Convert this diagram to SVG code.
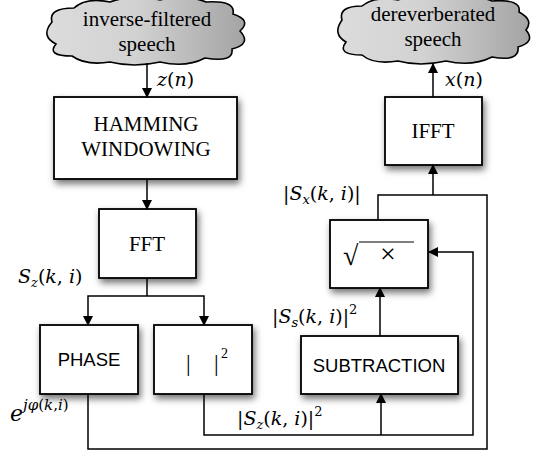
<svg xmlns="http://www.w3.org/2000/svg" width="537" height="457" viewBox="0 0 537 457">
<defs>
<linearGradient id="cg" x1="0" y1="0" x2="1" y2="0">
<stop offset="0" stop-color="#dcdcdc"/>
<stop offset="0.45" stop-color="#d2d2d2"/>
<stop offset="1" stop-color="#a4a4a4"/>
</linearGradient>
<filter id="sh" x="-20%" y="-20%" width="150%" height="160%">
<feDropShadow dx="2" dy="4" stdDeviation="3.5" flood-color="#000" flood-opacity="0.55"/>
</filter>
<marker id="ar" markerWidth="10" markerHeight="12" refX="9" refY="5" orient="auto" markerUnits="userSpaceOnUse" viewBox="0 0 10 10">
<path d="M0,0 L10,5 L0,10 Z" fill="#000"/>
</marker>
</defs>
<style>
.box{fill:#fff;stroke:#000;stroke-width:1.8;filter:url(#sh)}
.cloud{fill:url(#cg);stroke:#000;stroke-width:1.6}
.serif{font-family:"Liberation Serif","Times New Roman",serif;font-size:21px;fill:#000}
.sans{font-family:"Liberation Sans",Arial,sans-serif;font-size:18.5px;fill:#000}
.m{font-family:"DejaVu Serif","Liberation Serif",serif;font-size:19px;fill:#000}
.i{font-style:italic}
.sub{font-size:13px}
.c{fill:none;stroke:#000;stroke-width:1.5}
.ca{fill:none;stroke:#000;stroke-width:1.5;marker-end:url(#ar)}
</style>

<g id="cloud-input">
<path class="cloud" d="M52,22 Q48,8 74,8 Q86,-3 110,2 Q132,-6 160,0 Q186,-6 206,2 Q236,0 233,14 Q252,20 240,31 Q252,44 232,49 Q234,63 205,58 Q186,68 160,62 Q134,68 110,62 Q86,66 72,56 Q46,56 56,44 Q40,36 52,22 Z"/>
<text class="serif" x="147" y="26" text-anchor="middle">inverse-filtered</text>
<text class="serif" x="147" y="51" text-anchor="middle">speech</text>
</g>

<g id="cloud-output">
<path class="cloud" d="M342,20 Q338,6 362,6 Q374,-4 398,0 Q420,-7 446,-1 Q472,-7 492,1 Q522,-1 519,12 Q534,20 526,30 Q536,42 518,47 Q520,62 492,57 Q472,67 446,61 Q420,67 398,61 Q374,65 362,55 Q336,55 346,42 Q332,34 342,20 Z"/>
<text class="serif" x="433" y="21" text-anchor="middle">dereverberated</text>
<text class="serif" x="433" y="46" text-anchor="middle">speech</text>
</g>

<g id="hamming">
<rect class="box" x="54" y="97" width="183" height="82"/>
<text class="serif" x="146" y="131" text-anchor="middle">HAMMING</text>
<text class="serif" x="146" y="156" text-anchor="middle">WINDOWING</text>
</g>

<g id="fft">
<rect class="box" x="99" y="209" width="97" height="69"/>
<text class="serif" x="147" y="251" text-anchor="middle">FFT</text>
</g>

<g id="phase">
<rect class="box" x="40" y="325" width="98" height="69"/>
<text class="sans" x="89" y="366" text-anchor="middle">PHASE</text>
</g>

<g id="magsq">
<rect class="box" x="154" y="325" width="98" height="69"/>
<text class="serif" x="186" y="371" style="font-size:23px">|</text>
<text class="serif" x="214" y="371" style="font-size:23px">|</text>
<text class="serif" x="221" y="358" style="font-size:14px">2</text>
</g>

<g id="subtraction">
<rect class="box" x="301" y="336" width="157" height="58"/>
<text class="sans" x="379" y="372" text-anchor="middle">SUBTRACTION</text>
</g>

<g id="sqrt">
<rect class="box" x="330" y="220" width="98" height="68"/>
<text class="serif" x="343" y="265" style="font-size:28px">√</text>
<line x1="359" y1="242" x2="414" y2="242" stroke="#000" stroke-width="1.2"/>
<text class="serif" x="388" y="263" text-anchor="middle" style="font-size:28px">×</text>
</g>

<g id="ifft">
<rect class="box" x="385" y="97" width="97" height="68"/>
<text class="serif" x="433" y="138" text-anchor="middle">IFFT</text>
</g>

<g id="connectors">
<path class="ca" d="M147,63 V97"/>
<path class="ca" d="M147,179 V209"/>
<path class="c" d="M147,278 V296"/>
<path class="ca" d="M147,296 H88 V325"/>
<path class="ca" d="M147,296 H204 V325"/>
<path class="c" d="M88,394 V449 H487 V195 H378 V220"/>
<path class="ca" d="M433,195 V165"/>
<path class="ca" d="M204,394 V435 H473 V252 H429"/>
<path class="ca" d="M381,435 V394"/>
<path class="ca" d="M380,336 V288"/>
<path class="ca" d="M433,97 V64"/>
</g>

<g id="labels">
<text class="m" x="157" y="86"><tspan class="i">z</tspan>(<tspan class="i">n</tspan>)</text>
<text class="m" x="445" y="86"><tspan class="i">x</tspan>(<tspan class="i">n</tspan>)</text>
<text class="m" x="18" y="283"><tspan class="i">S</tspan><tspan class="i sub" dy="4">z</tspan><tspan dy="-4">(</tspan><tspan class="i">k</tspan>, <tspan class="i">i</tspan>)</text>
<text class="m" x="283" y="200">|<tspan class="i">S</tspan><tspan class="i sub" dy="4">x</tspan><tspan dy="-4">(</tspan><tspan class="i">k</tspan>, <tspan class="i">i</tspan>)|</text>
<text class="m" x="272" y="323">|<tspan class="i">S</tspan><tspan class="i sub" dy="4">s</tspan><tspan dy="-4">(</tspan><tspan class="i">k</tspan>, <tspan class="i">i</tspan>)|<tspan class="sub" dy="-9">2</tspan></text>
<text class="m" x="237" y="425">|<tspan class="i">S</tspan><tspan class="i sub" dy="4">z</tspan><tspan dy="-4">(</tspan><tspan class="i">k</tspan>, <tspan class="i">i</tspan>)|<tspan class="sub" dy="-9">2</tspan></text>
<text class="m" x="10" y="421" style="font-size:22px"><tspan class="i">e</tspan><tspan dy="-11" style="font-size:15px"><tspan class="i">jφ</tspan>(<tspan class="i">k</tspan>,<tspan class="i">i</tspan>)</tspan></text>
</g>
</svg>
